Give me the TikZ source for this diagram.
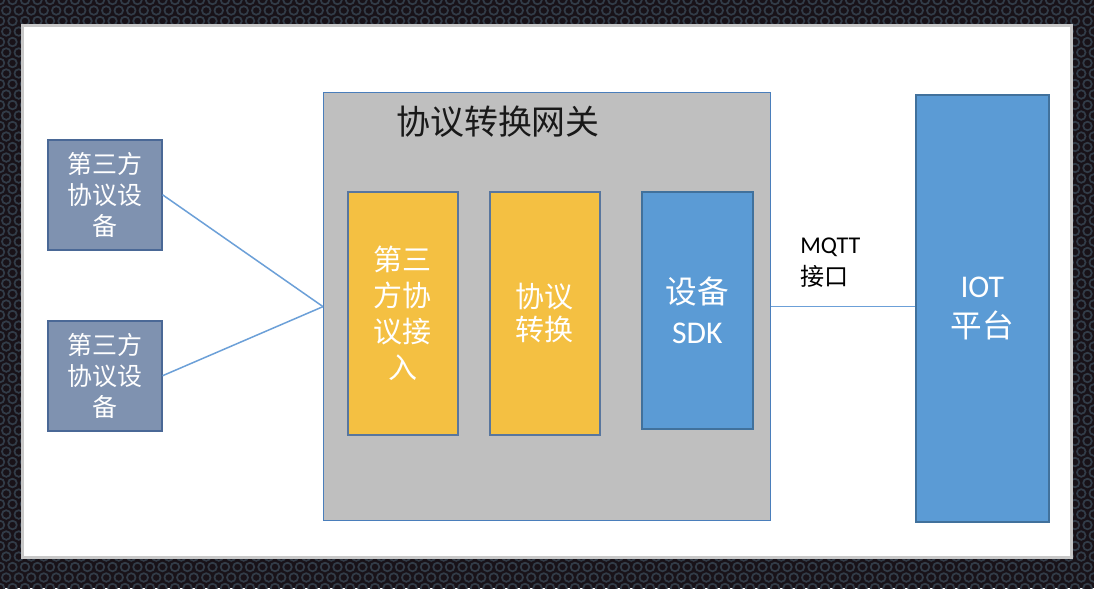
\documentclass[tikz,border=0pt]{standalone}
\usepackage{fontspec}
\setmainfont{Carlito}
\newfontfamily\cjk{Noto Sans CJK SC}
\usetikzlibrary{positioning, calc}

\definecolor{bgdark}{RGB}{24,18,24}
\definecolor{holering}{RGB}{50,60,72}
\definecolor{panelgray}{RGB}{200,200,200}
\definecolor{devfill}{RGB}{127,146,176}
\definecolor{devline}{RGB}{74,104,150}
\definecolor{gwfill}{RGB}{191,191,191}
\definecolor{gwline}{RGB}{74,126,187}
\definecolor{modyellow}{RGB}{244,192,66}
\definecolor{modline}{RGB}{88,118,158}
\definecolor{sdkblue}{RGB}{91,155,213}
\definecolor{sdkline}{RGB}{65,113,156}
\definecolor{linkblue}{RGB}{108,160,216}

\begin{document}
\begin{tikzpicture}[
  x=0.2mm, y=-0.2mm,
  hole/.style={draw=holering, fill=bgdark, line width=0.35mm},
  dev/.style={draw=devline, fill=devfill, text=white, line width=0.3mm, anchor=north west,
    minimum width=22.8mm, minimum height=22mm, inner sep=0pt, align=center,
    font=\fontsize{14.2}{17.6}\selectfont\cjk},
  modbox/.style={draw=modline, fill=modyellow, text=white, line width=0.3mm, anchor=north west,
    minimum width=22mm, minimum height=48.6mm, inner sep=0pt, align=center},
  bluebox/.style={draw=sdkline, fill=sdkblue, text=white, line width=0.3mm, anchor=north west,
    inner sep=0pt, align=center, font=\fontsize{18}{22.8}\selectfont},
  link/.style={draw=linkblue, line width=0.3mm},
  lbl/.style={inner sep=0pt, align=left, font=\fontsize{13.7}{18.2}\selectfont}
]
\useasboundingbox (0,0) rectangle (1094,588);

% ================= FRAME =================
\fill[bgdark] (0,0) rectangle (1094,588);
\foreach \yy in {0,21,...,600} \foreach \xx in {0,12.5,...,1100} \draw[hole] (\xx,\yy) circle (4.3);
\foreach \yy in {10.5,31.5,...,600} \foreach \xx in {6.25,18.75,...,1100} \draw[hole] (\xx,\yy) circle (4.3);
\draw[panelgray, fill=white, line width=0.6mm] (22.5,25.5) rectangle (1071.5,557.5);

% ================= DEVICES =================
\node[dev] (dev1) at (47,139) {第三方\\协议设\\备};
\node[dev] (dev2) at (47,320) {第三方\\协议设\\备};

% ================= GATEWAY =================
\node[draw=gwline, fill=gwfill, line width=0.25mm, anchor=north west,
      minimum width=89.4mm, minimum height=85.6mm, inner sep=0pt] (gw) at (323,92) {};
\node[inner sep=0pt, text=black!90, font=\fontsize{19.3}{23}\selectfont\cjk] (gwtitle)
  at (498,122) {协议转换网关};
\node[modbox, font=\fontsize{16.5}{20.5}\selectfont\cjk] (access) at (347,191) {第三\\方协\\议接\\入};
\node[modbox, font=\fontsize{16.5}{19}\selectfont\cjk] (conv) at (489,191) {协议\\转换};
\node[bluebox, minimum width=22.2mm, minimum height=47.4mm] (sdk) at (641,191)
  {{\cjk 设备}\\SDK};

% ================= PLATFORM =================
\node[bluebox, minimum width=26.6mm, minimum height=85.4mm] (iot) at (915,94)
  {IOT\\{\cjk 平台}};

% ================= LINKS =================
\draw[link] (dev1.east) -- (gw.west);
\draw[link] (dev2.east) -- (gw.west);
\draw[link] (gw.east) -- (gw.east -| iot.west);
\node[lbl, anchor=north west] (mqtt) at (800,238) {MQTT\\{\cjk 接口}};
\end{tikzpicture}
\end{document}
